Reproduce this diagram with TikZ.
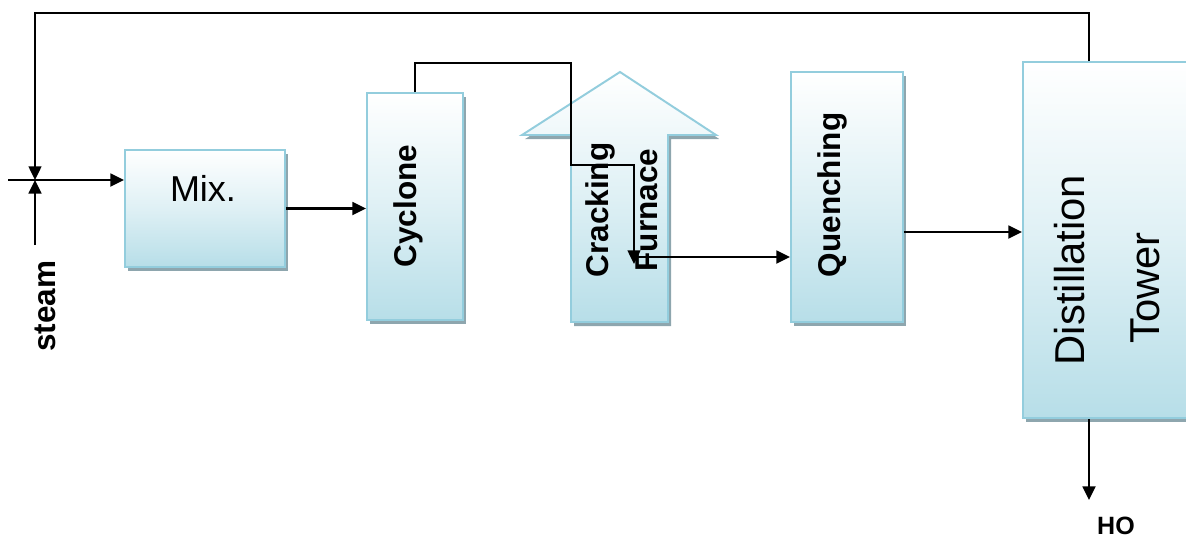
\documentclass[tikz,border=0pt]{standalone}
\usepackage{fontspec}
\setmainfont{Liberation Sans}
\usetikzlibrary{arrows.meta,positioning,fit,shadows,calc}
\definecolor{boxline}{HTML}{93CDDD}
\definecolor{boxfill}{HTML}{B7DEE8}
\definecolor{boxshade}{HTML}{8EA6AE}

\begin{document}
\begin{tikzpicture}[x=0.025cm,y=-0.025cm,
  every node/.style={font=\bfseries\fontsize{22.4}{26}\selectfont},
  unit/.style={draw=boxline,line width=1.4pt,top color=white,bottom color=boxfill,
    middle color=boxfill!45,inner sep=0pt,
    drop shadow={shadow xshift=0.08cm,shadow yshift=-0.1cm,fill=boxshade,opacity=1}},
  flow/.style={-{Triangle[length=0.34cm,width=0.32cm]},line width=1.7pt},
  vlbl/.style={rotate=90,inner sep=0pt}]
  \useasboundingbox (0,0) rectangle (1186,540);
  \clip (0,0) rectangle (1186,540);

  % units
  \node[unit,fit={(125,150) (285,267)}] (mix) {};
  \node[unit,fit={(367,93) (463,320)}] (cyc) {};
  \path[unit] (571,322) -- (571,135) -- (522,135) -- (620,72) -- (716,135)
    -- (668,135) -- (668,322) -- cycle;
  \node[unit,fit={(791,72) (903,322)}] (qch) {};
  \node[unit,fit={(1023,62) (1200,418)}] (dist) {};

  % labels
  \node[font=\fontsize{25.6}{30}\selectfont,inner sep=0pt] (mixt) at (203,188) {Mix.};
  \node[vlbl] (cyct) at (408,206) {Cyclone};
  \node[vlbl] (crk) at (600,210) {Cracking};
  \node[vlbl] (fur) at (647,210) {Furnace};
  \node[vlbl] (qcht) at (832,195) {Quenching};
  \node[vlbl,font=\fontsize{29.7}{34}\selectfont] (dst1) at (1070,270) {Distillation};
  \node[vlbl,font=\fontsize{29.7}{34}\selectfont] (dst2) at (1145,288) {Tower};
  \node[vlbl] (stm) at (45,306) {steam};
  \node[font=\bfseries\fontsize{17.8}{21}\selectfont,inner sep=0pt] (ho) at (1116,526) {HO};

  % stream points
  \coordinate (junc) at (35,180);
  \coordinate (feed) at (8,180);
  \coordinate (stmin) at (35,245);
  \coordinate (rec) at (1089,13);
  \coordinate (cyctop) at (571,63);
  \coordinate (fbend) at (634,165);
  \coordinate (fin) at (634,264);
  \coordinate (fout) at (634,257);
  \coordinate (qlvl) at (950,232);
  \coordinate (hoin) at (1089,500);

  % streams
  \draw[flow,line width=1.3pt] (rec |- dist.north) -- (rec) -| (junc);
  \draw[flow] (stmin) -- (junc);
  \draw[flow] (feed) -- (feed -| mix.west);
  \draw[flow] (mix.east) -- (mix.east -| cyc.west);
  \draw[flow,line width=1.3pt] (cyc.north) |- (cyctop) |- (fbend) -- (fin);
  \draw[flow] (fout) -- (fout -| qch.west);
  \draw[flow] (qch.east |- qlvl) -- (dist.west |- qlvl);
  \draw[flow] (hoin |- dist.south) -- (hoin);
\end{tikzpicture}
\end{document}
